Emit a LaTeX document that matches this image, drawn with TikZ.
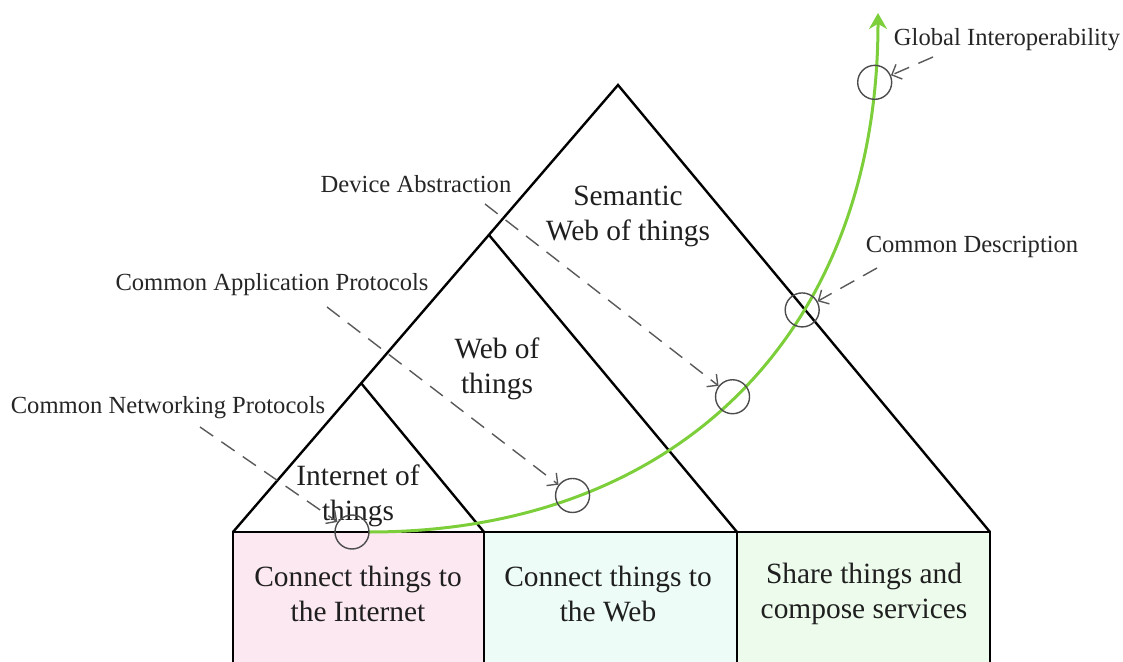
\documentclass[tikz,border=0pt]{standalone}
\usepackage{fontspec}
\setmainfont{Liberation Serif}
\usepackage{xcolor}
\usetikzlibrary{arrows.meta}
\definecolor{pinkbox}{HTML}{FCE8F0}
\definecolor{cyanbox}{HTML}{EEFCF7}
\definecolor{greenbox}{HTML}{ECFBEB}
\definecolor{evogreen}{HTML}{7CCF3A}

\begin{document}
\begin{tikzpicture}[x=0.5pt,y=-0.5pt,
	layer/.style={line width=1.2pt},
	box/.style={draw=black,line width=1.2pt},
	title/.style={font=\fontsize{14.7}{17.5}\selectfont,text=black!88,align=center},
	note/.style={font=\fontsize{12.3}{14}\selectfont,text=black!85},
	ring/.style={circle,draw=black!70,line width=0.7pt,minimum size=17pt,inner sep=0pt},
	pointer/.style={draw=black!65,line width=0.7pt,dash pattern=on 8pt off 5pt,-{Straight Barb[length=4pt,width=8pt]}},
	evolution/.style={draw=evogreen,line width=1.5pt,-{Stealth[length=8pt,width=9pt]}}]
			\useasboundingbox (0,0) rectangle (1123,662);
			\draw[box,fill=pinkbox] (233,532) rectangle (484,672);
			\draw[box,fill=cyanbox] (484,532) rectangle (737,672);
			\draw[box,fill=greenbox] (737,532) rectangle (990,672);
			\draw[layer] (233,532) -- (618,85) -- (990,532);
			\draw[layer] (489,235) -- (737,532);
			\draw[layer] (361,383) -- (484,532);
			\node[title] (swot) at (628,216) {Semantic\\Web of things};
			\node[title] (wot) at (497,369) {Web of\\things};
			\node[title] (iot) at (358,496) {Internet of\\things};
			\node[title] (iotbox) at (358,594) {Connect things to\\the Internet};
			\node[title] (wotbox) at (608,594) {Connect things to\\the Web};
			\node[title] (swotbox) at (864,594) {Share things and\\compose services};
			\node[note] (glob) at (1007,40) {Global Interoperability};
			\node[note] (desc) at (972,247) {Common Description};
			\node[note] (devabs) at (416,184) {Device Abstraction};
			\node[note] (appproto) at (272,285) {Common Application Protocols};
			\node[note] (netproto) at (168,408) {Common Networking Protocols};
			\draw[evolution,shorten <=8.5pt] (352,532) .. controls (680,532) and (878,330) .. (878,13)
				node[ring,pos=0] (c1) {}
				node[ring,pos=0.25] (c2) {}
				node[ring,pos=0.49] (c3) {}
				node[ring,pos=0.635] (c4) {}
				node[ring,pos=0.925] (c5) {};
			\draw[pointer] (netproto) ++(32,19) -- (c1);
			\draw[pointer] (appproto) ++(55,22) -- (c2);
			\draw[pointer] (devabs) ++(69,20) -- (c3);
			\draw[pointer] (desc) ++(-95,21) -- (c4);
			\draw[pointer] (glob) ++(-74,17) -- (c5);
		\end{tikzpicture}
\end{document}
